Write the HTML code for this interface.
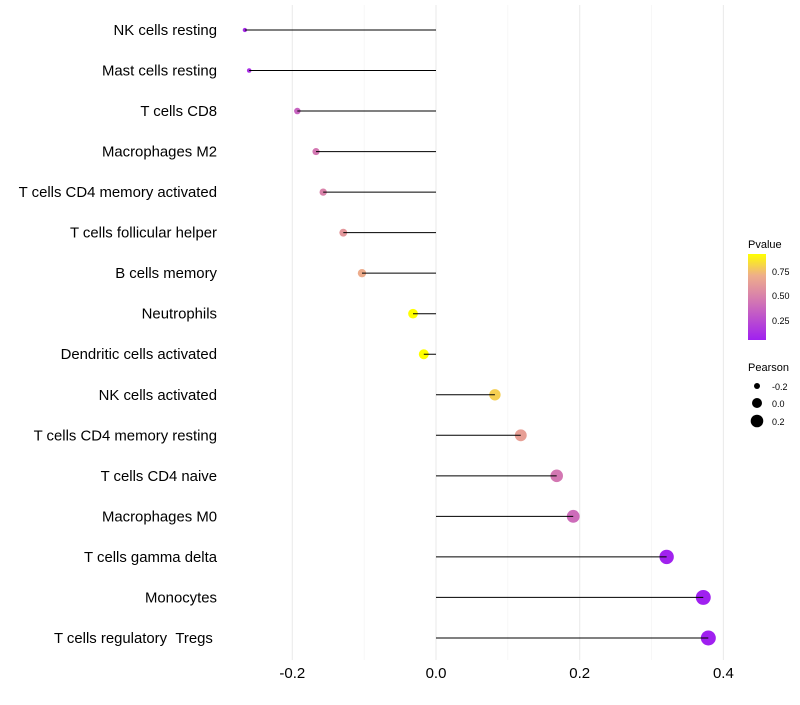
<!DOCTYPE html>
<html><head><meta charset="utf-8"><style>
body{margin:0;background:#fff;font-family:"Liberation Sans",sans-serif}
</style></head><body>
<svg id="chart" width="800" height="700" xmlns="http://www.w3.org/2000/svg" font-family="Liberation Sans, sans-serif">
<g id="grid"></g>
<g id="marks"></g>
<g id="ylabels"></g>
<g id="xlabels"></g>
<g id="legend">
  <defs><linearGradient id="pg" x1="0" y1="1" x2="0" y2="0">
    <stop offset="0" stop-color="#a020f0"/><stop offset="0.5" stop-color="#d880ac"/><stop offset="0.75" stop-color="#eeae8a"/><stop offset="1" stop-color="#ffff00"/>
  </linearGradient></defs>
  <text x="748" y="248" font-size="11">Pvalue</text>
  <rect x="748" y="254" width="18" height="86" fill="url(#pg)"/>
  <text x="772" y="275" font-size="9">0.75</text>
  <text x="772" y="299" font-size="9">0.50</text>
  <text x="772" y="324" font-size="9">0.25</text>
  <text x="748" y="371" font-size="11">Pearson</text>
  <circle cx="757" cy="386" r="3" fill="#000"/>
  <circle cx="757" cy="403" r="5" fill="#000"/>
  <circle cx="757" cy="421" r="6.3" fill="#000"/>
  <text x="772" y="390" font-size="9">-0.2</text>
  <text x="772" y="407" font-size="9">0.0</text>
  <text x="772" y="425" font-size="9">0.2</text>
</g>
</svg>
<script>
const categories=["NK cells resting","Mast cells resting","T cells CD8","Macrophages M2","T cells CD4 memory activated","T cells follicular helper","B cells memory","Neutrophils","Dendritic cells activated","NK cells activated","T cells CD4 memory resting","T cells CD4 naive","Macrophages M0","T cells gamma delta","Monocytes","T cells regulatory\u00a0\u00a0Tregs\u00a0"];
const pearson=[-0.266,-0.260,-0.193,-0.167,-0.157,-0.129,-0.103,-0.032,-0.017,0.082,0.118,0.168,0.191,0.321,0.372,0.379];
const pvalues=[0.10,0.12,0.36,0.45,0.50,0.60,0.70,0.95,0.98,0.80,0.64,0.45,0.40,0.06,0.04,0.03];
const xTicks=[-0.2,0.0,0.2,0.4];
const xTickLabels=["-0.2","0.0","0.2","0.4"];
const xMinor=[-0.1,0.1,0.3];
const NS="http://www.w3.org/2000/svg";
function xs(v){return 436+v*718.5;}
function ys(i){return 30+i*40.53;}
function rs(v){return Math.sqrt(Math.max(1,26+80*v));}
function lerp(a,b,t){return a.map((c,k)=>Math.round(c+(b[k]-c)*t));}
function color(p){const t=Math.min(1,Math.max(0,(p-0.05)/0.88));
 const c0=[160,32,240],c1=[216,128,172],c2=[238,174,138],c3=[255,255,0];
 let c; if(t<0.5)c=lerp(c0,c1,t*2); else if(t<0.75)c=lerp(c1,c2,(t-0.5)*4); else c=lerp(c2,c3,(t-0.75)*4);
 return `rgb(${c[0]},${c[1]},${c[2]})`;}
function mk(tag,attrs,parent){const e=document.createElementNS(NS,tag);for(const k in attrs)e.setAttribute(k,attrs[k]);parent.appendChild(e);return e;}
const grid=document.getElementById('grid'),marks=document.getElementById('marks'),yl=document.getElementById('ylabels'),xl=document.getElementById('xlabels');
xMinor.forEach(v=>{const l=mk('line',{x1:xs(v),x2:xs(v),y1:5,y2:660,stroke:'#f2f2f2','stroke-width':0.6},grid);

});
xTicks.forEach((v,i)=>{const l=mk('line',{x1:xs(v),x2:xs(v),y1:5,y2:660,stroke:'#ebebeb','stroke-width':1.1},grid);


const t=mk('text',{x:xs(v),y:678,'font-size':15,'text-anchor':'middle',fill:'#000'},xl);t.textContent=xTickLabels[i];

});
categories.forEach((c,i)=>{const y=ys(i),x=xs(pearson[i]);
const circ=mk('circle',{cx:x,cy:y,r:rs(pearson[i]),fill:color(pvalues[i])},marks);


const ln=mk('line',{x1:xs(0),x2:x,y1:y,y2:y,stroke:'#000','stroke-width':1},marks);


const t=mk('text',{x:217,y:y+5,'font-size':14.9,'text-anchor':'end',fill:'#000'},yl);t.textContent=c;

});
</script>
</body></html>
